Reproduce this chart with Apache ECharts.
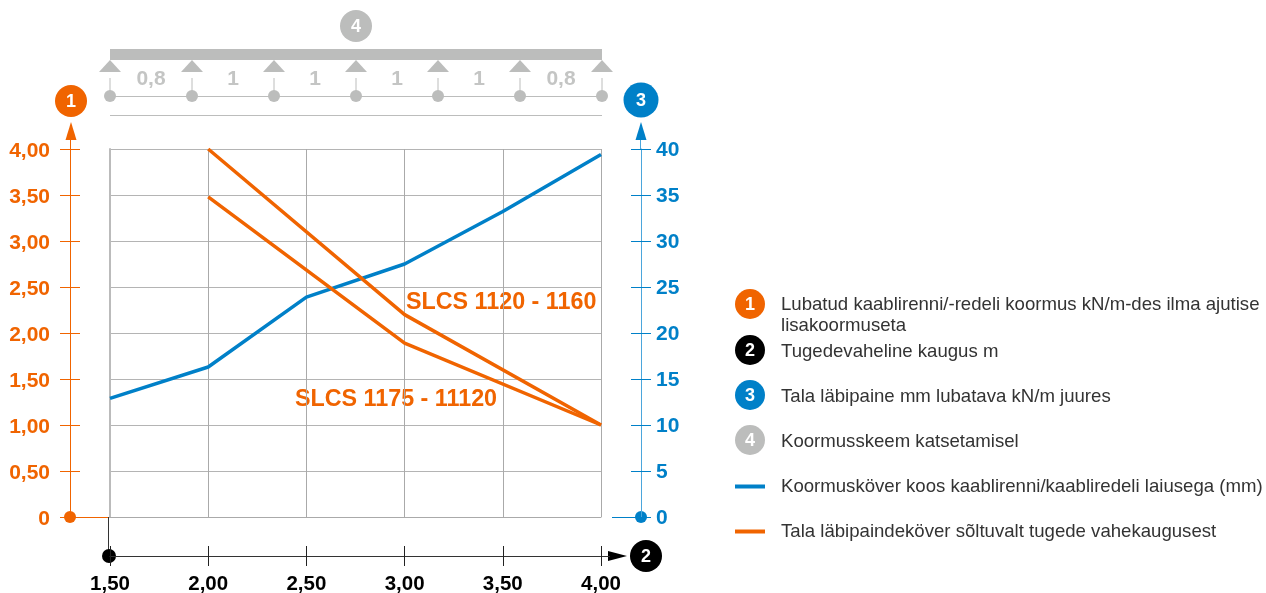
<!DOCTYPE html>
<html><head><meta charset="utf-8">
<style>html,body{margin:0;padding:0;background:#fff}#c{width:1266px;height:593px}</style>
<script src="https://cdn.jsdelivr.net/npm/echarts@6/dist/echarts.min.js"></script>
</head><body><div id="c"></div>
<script>
const spans = [1.5, 2, 2.5, 3, 3.5, 4];
const xTickLabels = ['1,50','2,00','2,50','3,00','3,50','4,00'];
const loadTickLabels = ['0','0,50','1,00','1,50','2,00','2,50','3,00','3,50','4,00'];
const deflectionTickLabels = ['0','5','10','15','20','25','30','35','40'];
const deflectionValues = [12.9, 16.3, 23.9, 27.5, 33.2, 39.4];
const loadA = [null, 4.0, null, 2.2, null, 1.0];
const loadB = [null, 3.48, null, 1.89, null, 1.0];
const supports = ['0,8','1','1','1','1','0,8'];
const legendBlue = 'Koormusköver koos kaablirenni/kaabliredeli laiusega (mm)';
const legendOrange = 'Tala läbipaindeköver sõltuvalt tugede vahekaugusest';
const notes = [
  ['1','#f06400','Lubatud kaablirenni/-redeli koormus kN/m-des ilma ajutise\nlisakoormuseta',304],
  ['2','#000000','Tugedevaheline kaugus m',350],
  ['3','#0080c8','Tala läbipaine mm lubatava kN/m juures',395],
  ['4','#bcbdbc','Koormusskeem katsetamisel',440]
];

const ORANGE='#f06400', BLUE='#0080c8', GREY='#bcbdbc', FONT='"Liberation Sans",Arial,sans-serif';
const pairs = a => spans.map((x,i)=>[x,a[i]]).filter(p=>p[1]!==null);
const gfx = [];
const line=(x1,y1,x2,y2,stroke,w=1)=>gfx.push({type:'line',silent:true,shape:{x1,y1,x2,y2},style:{stroke,lineWidth:w}});
const circle=(cx,cy,r,fill)=>gfx.push({type:'circle',silent:true,shape:{cx,cy,r},style:{fill}});
const poly=(points,fill)=>gfx.push({type:'polygon',silent:true,shape:{points},style:{fill}});
const text=(x,y,t,fill,font,align='center',lh)=>gfx.push({type:'text',silent:true,x,y,style:{text:t,fill,font,align,verticalAlign:'middle',lineHeight:lh}});
const badge=(cx,cy,r,fill,t)=>{circle(cx,cy,r,fill);text(cx,cy+1,t,'#fff','bold 18px '+FONT);};

// load scheme
poly([[110,49],[602,49],[602,60],[110,60]],GREY);
const sx=[110,192,274,356,438,520,602];
sx.forEach(x=>{poly([[x,60],[x-11,72],[x+11,72]],GREY);line(x,78,x,92,GREY);circle(x,96,6,GREY);});
line(110,96.5,602,96.5,GREY,1.2);
line(110,115.5,602,115.5,GREY,1.2);
supports.forEach((s,i)=>text((sx[i]+sx[i+1])/2,79,s,'#c4c5c4','bold 21px '+FONT));
badge(356,26,16,GREY,'4');

// left axis decorations
badge(71,101,16,ORANGE,'1');
poly([[71,122],[65.5,140],[76.5,140]],ORANGE);
line(70.5,140,70.5,149,ORANGE);
line(60,517.5,110,517.5,ORANGE);
circle(70,517,6,ORANGE);
// right axis decorations
badge(641,100,17.5,BLUE,'3');
poly([[641,122],[635.5,140],[646.5,140]],BLUE);
line(640.5,140,640.5,149,'#4ba6dc');
line(612,517.5,641,517.5,BLUE);
circle(641,517,6,BLUE);
// bottom axis decorations
line(108.5,517,108.5,556,'#333');
poly([[627,556],[608,551],[608,561]],'#000');
line(601,556.5,610,556.5,'#333');
circle(109,556,7,'#000');
badge(646,556,16,'#000','2');
// curve names
text(406,303,'SLCS 1120 - 1160',ORANGE,'bold 23.3px '+FONT,'left');
text(295,400,'SLCS 1175 - 11120',ORANGE,'bold 23.3px '+FONT,'left');
// notes
notes.forEach(n=>{badge(750,n[3],15,n[1],n[0]);
  text(781,n[3]+(n[0]==='1'?11.5:1.5),n[2],'#333','18.6px '+FONT,'left',21);});

const lab=(arr,color,extra)=>Object.assign({show:true,color,fontFamily:FONT,fontWeight:'bold',fontSize:21,
  formatter:(v,i)=>arr[i]},extra);
const off={show:false};
const lineOff={show:false,onZero:false};
const option={
  animation:false,
  backgroundColor:'#fff',
  grid:{left:110,right:665,top:149,bottom:76,outerBoundsMode:'none'},
  legend:{data:[{name:legendBlue},{name:legendOrange}],orient:'vertical',left:730,top:472,itemGap:26,itemWidth:30,itemHeight:4,
    icon:'rect',selectedMode:false,textStyle:{color:'#333',fontFamily:FONT,fontSize:18.6,padding:[0,0,0,11]}},
  xAxis:[
    {type:'value',min:1.5,max:4,interval:.5,axisLine:{show:true,onZero:false,lineStyle:{color:'#aaa'}},axisTick:off,axisLabel:off,
      splitLine:{show:true,lineStyle:{color:'#aaa'}}},
    {type:'value',position:'bottom',offset:39,min:1.5,max:4,interval:.5,axisLine:{show:true,onZero:false,lineStyle:{color:'#333'}},
      axisTick:{show:true,length:10,lineStyle:{color:'#222'}},splitLine:off,axisLabel:lab(xTickLabels,'#000',{margin:18,fontSize:20.5})},
    {type:'value',position:'bottom',offset:39,min:1.5,max:4,interval:.5,axisLine:lineOff,
      axisTick:{show:true,inside:true,length:10,lineStyle:{color:'#222'}},splitLine:off,axisLabel:off}
  ],
  yAxis:[
    {type:'value',position:'left',min:0,max:4,interval:.5,axisLine:{show:true,onZero:false,lineStyle:{color:'#bbb',width:2}},axisTick:off,axisLabel:off,
      splitLine:{show:true,lineStyle:{color:'#b4b4b4'}}},
    {type:'value',position:'left',offset:40,min:0,max:4,interval:.5,axisLine:{show:true,onZero:false,lineStyle:{color:ORANGE}},
      axisTick:{show:true,length:10,lineStyle:{color:ORANGE}},splitLine:off,axisLabel:lab(loadTickLabels,ORANGE,{margin:20,verticalAlign:'top',lineHeight:4})},
    {type:'value',position:'left',offset:40,min:0,max:4,interval:.5,axisLine:lineOff,
      axisTick:{show:true,inside:true,length:10,lineStyle:{color:ORANGE}},splitLine:off,axisLabel:off},
    {type:'value',position:'right',offset:40,min:0,max:40,interval:5,axisLine:{show:true,onZero:false,lineStyle:{color:'#4ba6dc'}},
      axisTick:{show:true,length:10,lineStyle:{color:BLUE}},splitLine:off,axisLabel:lab(deflectionTickLabels,BLUE,{margin:15,verticalAlign:'top',lineHeight:2})},
    {type:'value',position:'right',offset:40,min:0,max:40,interval:5,axisLine:lineOff,
      axisTick:{show:true,inside:true,length:10,lineStyle:{color:BLUE}},splitLine:off,axisLabel:off}
  ],
  series:[
    {name:legendBlue,type:'line',xAxisIndex:0,yAxisIndex:3,data:pairs(deflectionValues),symbol:'none',lineStyle:{color:BLUE,width:3.5},itemStyle:{color:BLUE}},
    {name:legendOrange,type:'line',xAxisIndex:0,yAxisIndex:0,data:pairs(loadA),symbol:'none',lineStyle:{color:ORANGE,width:3.5},itemStyle:{color:ORANGE}},
    {name:legendOrange,type:'line',xAxisIndex:0,yAxisIndex:0,data:pairs(loadB),symbol:'none',lineStyle:{color:ORANGE,width:3.5},itemStyle:{color:ORANGE}}
  ],
  graphic:{elements:gfx}
};
echarts.init(document.getElementById('c'),null,{renderer:'canvas'}).setOption(option);
</script></body></html>
